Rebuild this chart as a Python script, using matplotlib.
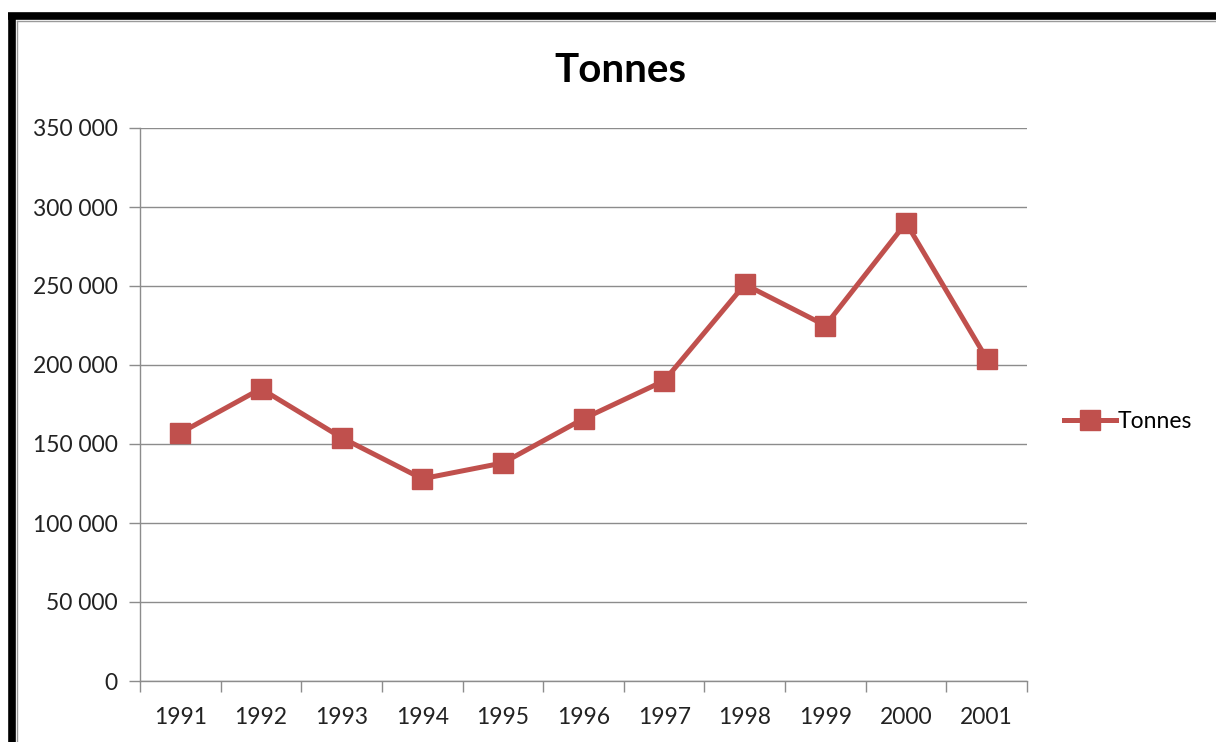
import matplotlib
matplotlib.use("Agg")
import matplotlib.pyplot as plt
from matplotlib.lines import Line2D
from matplotlib.ticker import FuncFormatter, MultipleLocator

years = ["1991", "1992", "1993", "1994", "1995", "1996",
         "1997", "1998", "1999", "2000", "2001"]
tonnes = [157000, 185000, 154000, 128000, 138000, 166000,
          190000, 251000, 225000, 290000, 204000]

RED = "#C0504D"
GRID = "#8c8c8c"

plt.rcParams["font.family"] = ["Lato", "DejaVu Sans"]

fig = plt.figure(figsize=(12.16, 7.42), dpi=100)
ax = fig.add_axes([140 / 1216, 1 - 681 / 742, 887 / 1216, 553 / 742])

x = list(range(1, len(years) + 1))
ax.plot(x, tonnes, color=RED, lw=3.6, marker="s", ms=14,
        markeredgecolor=RED, label="Tonnes", solid_joinstyle="miter")

ax.set_xlim(0.5, len(years) + 0.5)
ax.set_ylim(0, 350000)
ax.yaxis.set_major_locator(MultipleLocator(50000))
ax.yaxis.set_major_formatter(FuncFormatter(lambda v, p: f"{int(v):,}".replace(",", " ")))
ax.set_xticks(x)
ax.set_xticklabels(years)
ax.set_xticks([i + 0.5 for i in range(len(years) + 1)], minor=True)

ax.tick_params(axis="x", which="major", length=0, pad=19, labelsize=16.5, colors="#222222")
ax.tick_params(axis="x", which="minor", length=8, width=1, color=GRID)
ax.tick_params(axis="y", length=8, width=1, color=GRID, pad=8, labelsize=16.5, labelcolor="#222222")

ax.grid(axis="y", color=GRID, lw=1)
ax.set_axisbelow(True)
for side in ("top", "right"):
    ax.spines[side].set_visible(False)
for side in ("left", "bottom"):
    ax.spines[side].set_color(GRID)
    ax.spines[side].set_linewidth(1)

fig.text(620 / 1216, 1 - 71 / 742, "Tonnes", ha="center", va="center",
         fontsize=29, fontweight="bold")

ax.legend(loc="center left", bbox_to_anchor=(1.031, 1 - (422 - 128) / 553),
          frameon=False, fontsize=16.5, handlelength=2.3, handletextpad=0.05,
          borderaxespad=0)

# frame edge along the top and left
fig.add_artist(Line2D([8 / 1216, 1], [1 - 16 / 742] * 2, color="black", lw=5.5,
                      transform=fig.transFigure, solid_capstyle="butt"))
fig.add_artist(Line2D([12 / 1216] * 2, [0, 1 - 13 / 742], color="black", lw=5.5,
                      transform=fig.transFigure, solid_capstyle="butt"))
fig.add_artist(Line2D([17 / 1216, 1], [1 - 21 / 742] * 2, color="#9a9a9a", lw=1,
                      transform=fig.transFigure))
fig.add_artist(Line2D([17 / 1216] * 2, [0, 1 - 21 / 742], color="#9a9a9a", lw=1,
                      transform=fig.transFigure))

fig.savefig("out.png", dpi=100)
